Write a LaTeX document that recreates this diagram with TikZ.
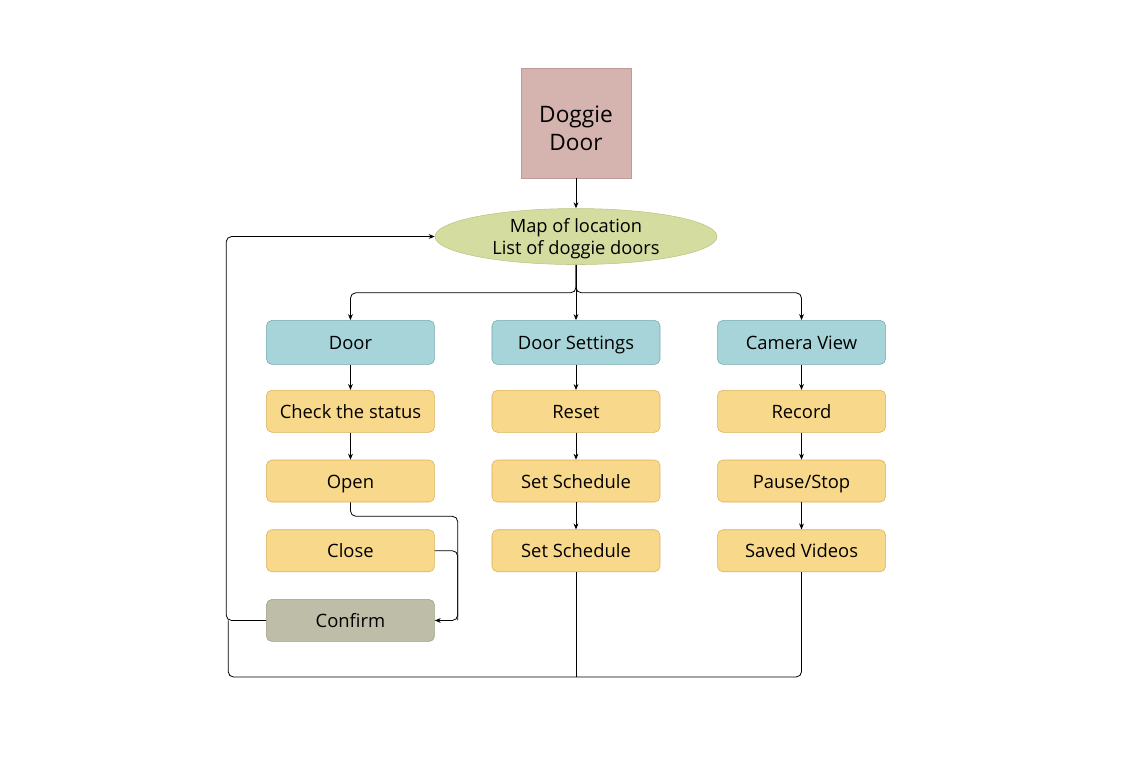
\documentclass[tikz,border=0pt]{standalone}
\usepackage{fontspec}
\setmainfont{Open Sans}
\usetikzlibrary{positioning,arrows.meta,calc,shapes.geometric}
\definecolor{dogfill}{HTML}{D5B4B0}
\definecolor{dogline}{HTML}{C09A96}
\definecolor{mapfill}{HTML}{D5DCA0}
\definecolor{mapline}{HTML}{BCC482}
\definecolor{headfill}{HTML}{A6D4D8}
\definecolor{headline}{HTML}{6FA8AD}
\definecolor{taskfill}{HTML}{F8D88A}
\definecolor{taskline}{HTML}{D9B055}
\definecolor{okfill}{HTML}{BDBDA8}
\definecolor{okline}{HTML}{9C9C84}
\tikzset{
  box/.style  = {rectangle, draw=taskline, fill=taskfill, rounded corners=4pt,
                 minimum width=126pt, minimum height=31.5pt, inner sep=0pt,
                 text height=11.5pt, text depth=1pt,
                 font=\fontsize{13.8}{16}\selectfont},
  head/.style = {box, draw=headline, fill=headfill, minimum height=33pt},
  ok/.style   = {box, draw=okline, fill=okfill},
  top/.style  = {rectangle, draw=dogline, fill=dogfill, minimum size=82.5pt,
                 inner sep=0pt, align=center, text height=41pt, text depth=0pt,
                 font=\fontsize{17}{21}\selectfont},
  oval/.style = {ellipse, draw=mapline, fill=mapfill, minimum width=211.5pt,
                 minimum height=42pt, inner sep=0pt, align=center,
                 text depth=0pt, font=\fontsize{13.7}{16.5}\selectfont},
  wire/.style = {line width=0.6pt, rounded corners=4pt},
  arr/.style  = {wire, -{Stealth[length=4.5pt,width=3.6pt]}}
}
\begin{document}
\begin{tikzpicture}[x=0.75pt,y=0.75pt]
    \useasboundingbox (-576,123) rectangle (563,-646);
    \node[top] (dog){Doggie\\Door};
    \node[oval,below=22.5pt of dog] (map){Map of location\\List of doggie doors};
    \node[head,below=41.5pt of map] (sett){Door Settings};
    \node[head,left=42.75pt of sett] (door){Door};
    \node[head,right=42.75pt of sett] (cam){Camera View};
    % door column
    \node[box,below=19pt of door] (check){Check the status};
    \node[box,below=20.4pt of check] (open){Open};
    \node[box,below=20.4pt of open] (close){Close};
    \node[ok,below=20.4pt of close] (confirm){Confirm};
    % settings column
    \node[box,below=19pt of sett] (reset){Reset};
    \node[box,below=20.4pt of reset] (sched){Set Schedule};
    \node[box,below=20.4pt of sched] (schedb){Set Schedule};
    % camera column
    \node[box,below=19pt of cam] (record){Record};
    \node[box,below=20.4pt of record] (pause){Pause/Stop};
    \node[box,below=20.4pt of pause] (saved){Saved Videos};
    \coordinate (split) at ($(map.south)+(0,-28)$);
    \coordinate (rail) at ($(confirm.east)+(23,0)$);
    \coordinate (loop) at ($(confirm.west)+(-40,0)$);
    \coordinate (loopb) at ($(confirm.west)+(-38,0)$);
    \coordinate (bot) at ($(saved.south)+(0,-105)$);
    \draw[arr] (dog)--(map);
    \draw[arr] (map.south)--(split)-|(door.north);
    \draw[arr] (map.south)--(split)-|(cam.north);
    \draw[arr] (map)--(sett);
    \draw[arr] (door)--(check);
    \draw[arr] (check)--(open);
    \draw[arr] (sett)--(reset);
    \draw[arr] (reset)--(sched);
    \draw[arr] (sched)--(schedb);
    \draw[arr] (cam)--(record);
    \draw[arr] (record)--(pause);
    \draw[arr] (pause)--(saved);
    \draw[arr] (open.south)--++(0,-14)-|(rail)--(confirm.east);
    \draw[wire] (close.east)-|(rail);
    \draw[arr] (confirm.west)--(loop)|-(map.west);
    \draw[wire] (saved.south)--(bot)-|(loopb);
    \draw[wire] (schedb.south)--(schedb.south |- bot);
\end{tikzpicture}
\end{document}
